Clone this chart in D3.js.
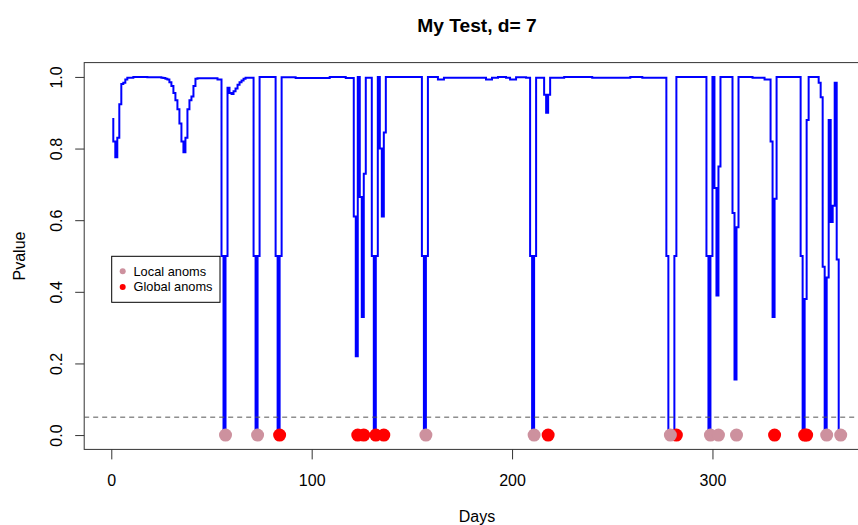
<!DOCTYPE html>
<html><head><meta charset="utf-8">
<script src="https://cdn.jsdelivr.net/npm/d3@7"></script>
<style>body{margin:0;background:#fff} svg{display:block;font-family:"Liberation Sans",Arial,sans-serif}</style>
</head><body><svg id="c" width="858" height="525"></svg>
<script>
// P-values for days 1..364
const pvalues = [
  0.885,0.82,0.776,0.83,0.924,0.98,0.984,0.993,0.998,0.998,      // 1-10
  0.998,1,1,1,1,1,1,1,0.999,0.999,                               // 11-20
  0.999,0.999,0.999,0.999,0.999,0.998,0.997,0.995,0.993,0.985,   // 21-30
  0.975,0.955,0.935,0.91,0.87,0.82,0.79,0.83,0.91,0.935,         // 31-40
  0.945,0.975,0.995,0.996,0.996,0.996,0.996,0.996,0.996,0.996,   // 41-50
  0.996,0.996,0.996,0.993,0.993,0.5,0,0.5,0.97,0.955,            // 51-60
  0.952,0.96,0.968,0.978,0.985,0.99,0.995,0.998,0.998,0.998,     // 61-70
  0.998,0.5,0,0.5,1,1,1,1,1,1,                                   // 71-80
  1,1,0.5,0,0.5,0.999,0.999,0.999,0.999,0.999,                   // 81-90
  0.999,0.999,0.997,0.997,0.997,0.997,0.997,0.997,0.997,0.997,   // 91-100
  0.997,0.997,0.997,0.997,0.997,0.997,0.997,0.997,0.997,1,       // 101-110
  1,1,1,1,1,1,1,0.997,0.997,0.997,                               // 111-120
  0.997,0.61,0.22,1,0.665,0.33,0.73,0.998,0.998,0.998,           // 121-130
  0.5,0,0.5,1,0.8,0.61,0.845,1,1,1,                              // 131-140
  1,1,1,1,1,1,1,1,1,1,                                           // 141-150
  1,1,1,1,1,0.5,0,0.5,1,1,                                       // 151-160
  1,1,1,0.993,0.993,0.993,0.998,0.998,0.998,0.998,               // 161-170
  0.998,0.998,0.998,0.998,0.998,0.998,0.998,0.998,0.998,0.998,   // 171-180
  0.998,0.998,0.998,0.998,0.998,0.998,0.998,0.993,0.993,0.993,   // 181-190
  0.998,0.998,0.998,1,1,1,1,0.998,0.998,0.993,                   // 191-200
  0.993,0.993,0.999,0.999,0.999,0.999,0.999,0.998,0.998,0.5,     // 201-210
  0,0.5,0.998,0.998,0.998,0.998,0.95,0.9,0.95,0.998,             // 211-220
  0.998,0.998,0.998,0.998,0.998,0.998,1,1,1,1,                   // 221-230
  1,1,1,1,1,1,1,1,1,1,                                           // 231-240
  0.998,0.998,0.998,0.998,0.998,0.998,0.998,0.998,0.998,0.998,   // 241-250
  0.998,0.998,0.998,0.998,0.998,0.998,0.998,0.998,0.998,1,       // 251-260
  1,1,1,1,1,0.998,0.998,0.998,0.998,0.998,                       // 261-270
  0.998,0.998,0.998,0.998,0.998,0.998,0.998,0.5,0,0,             // 271-280
  0,0.5,1,1,1,1,1,1,1,1,                                         // 281-290
  1,1,1,1,1,1,1,0.5,0,0.5,                                       // 291-300
  1,0.69,0.39,0.75,1,1,1,1,1,1,                                  // 301-310
  0.62,0.155,0.58,1,1,1,1,1,1,1,                                 // 311-320
  0.998,0.998,0.998,0.998,0.998,0.998,0.993,0.993,0.993,0.82,    // 321-330
  0.33,0.66,1,1,1,1,1,1,1,1,                                     // 331-340
  1,1,1,1,0.5,0,0.38,0.88,1,1,                                   // 341-350
  1,1,1,0.984,0.943,0.47,0,0.44,0.88,0.595,                      // 351-360
  0.64,0.984,0.49,0                                              // 361-364
];
const days = d3.range(1, pvalues.length + 1);
const localAnoms = [57, 73, 157, 211, 279, 299, 303, 312, 357, 364];
const globalAnoms = [84, 123, 126, 132, 136, 218, 282, 331, 346, 347];
const xTicks = [0, 100, 200, 300];
const yTicks = [0, 0.2, 0.4, 0.6, 0.8, 1.0];
const threshold = 0.05;
const titleText = "My Test, d= 7";
const xLabel = "Days", yLabel = "Pvalue";
const legendLabels = ["Local anoms", "Global anoms"];
const localColor = "#CD919E", globalColor = "#FF0000", lineColor = "#0000FF";

const svg = d3.select("#c");
svg.append("rect").attr("width", 858).attr("height", 525).attr("fill", "#fff");

const box = {left: 84.2, right: 869.8, top: 62.6, bottom: 449.4};
const x = d3.scaleLinear().domain([-13.52, 378.52]).range([box.left, box.right]);
const y = d3.scaleLinear().domain([-0.04, 1.04]).range([box.bottom, box.top]);

// line (stepped)
const data = days.map((d, i) => [d, pvalues[i]]);
svg.append("path").datum(data)
  .attr("fill", "none").attr("stroke", lineColor).attr("stroke-width", 2)
  .attr("stroke-linejoin", "miter")
  .attr("d", d3.line().x(d => x(d[0])).y(d => y(d[1])).curve(d3.curveStepBefore));

// box
svg.append("rect").attr("x", box.left).attr("y", box.top)
  .attr("width", box.right - box.left).attr("height", box.bottom - box.top)
  .attr("fill", "none").attr("stroke", "#333").attr("stroke-width", 1);

// x axis
const gx = svg.append("g").attr("transform", `translate(0,${box.bottom})`)
  .call(d3.axisBottom(x).tickValues(xTicks).tickSize(10).tickSizeOuter(0).tickFormat(d3.format("d")));
gx.select(".domain").remove();
gx.selectAll(".tick line").attr("stroke", "#333");
gx.selectAll(".tick text").attr("y", 31).attr("dy", null)
  .attr("dominant-baseline", "central").attr("font-size", 16).attr("fill", "#000")
  .attr("font-family", "Liberation Sans, Arial, sans-serif");

// y axis
const gy = svg.append("g").attr("transform", `translate(${box.left},0)`)
  .call(d3.axisLeft(y).tickValues(yTicks).tickSize(9).tickSizeOuter(0).tickFormat(d3.format(".1f")));
gy.select(".domain").remove();
gy.selectAll(".tick line").attr("stroke", "#333");
gy.selectAll(".tick text").attr("x", 0).attr("dy", null)
  .attr("transform", "translate(-28,0) rotate(-90)")
  .attr("text-anchor", "middle").attr("dominant-baseline", "central")
  .attr("font-size", 16).attr("fill", "#000")
  .attr("font-family", "Liberation Sans, Arial, sans-serif");

// threshold line
svg.append("line").attr("x1", box.left).attr("x2", box.right)
  .attr("y1", y(threshold)).attr("y2", y(threshold))
  .attr("stroke", "#555").attr("stroke-width", 1).attr("stroke-dasharray", "5,4");

// anomaly points
svg.append("g").selectAll("circle").data(globalAnoms).join("circle")
  .attr("cx", d => x(d)).attr("cy", y(0)).attr("r", 6.5).attr("fill", globalColor);
svg.append("g").selectAll("circle").data(localAnoms).join("circle")
  .attr("cx", d => x(d)).attr("cy", y(0)).attr("r", 6.5).attr("fill", localColor);

// titles
svg.append("text").attr("x", (box.left + box.right) / 2).attr("y", 31.5)
  .attr("text-anchor", "middle").attr("font-weight", "bold").attr("font-size", 19.2)
  .text(titleText);
svg.append("text").attr("x", (box.left + box.right) / 2).attr("y", 516)
  .attr("text-anchor", "middle").attr("dominant-baseline", "central").attr("font-size", 16)
  .text(xLabel);
svg.append("text").attr("transform", `translate(19,${(box.top + box.bottom) / 2}) rotate(-90)`)
  .attr("text-anchor", "middle").attr("dominant-baseline", "central").attr("font-size", 16)
  .text(yLabel);

// legend
const lg = svg.append("g");
lg.append("rect").attr("x", 111.7).attr("y", 256.3).attr("width", 108.3).attr("height", 46)
  .attr("fill", "#fff").attr("stroke", "#000").attr("stroke-width", 1);
const legendColors = [localColor, globalColor];
legendLabels.forEach((lab, i) => {
  const cy = 271.3 + i * 15.6;
  lg.append("circle").attr("cx", 122.7).attr("cy", cy).attr("r", 3).attr("fill", legendColors[i]);
  lg.append("text").attr("x", 133.5).attr("y", cy).attr("dominant-baseline", "central")
    .attr("font-size", 12.8).text(lab);
});
</script></body></html>
